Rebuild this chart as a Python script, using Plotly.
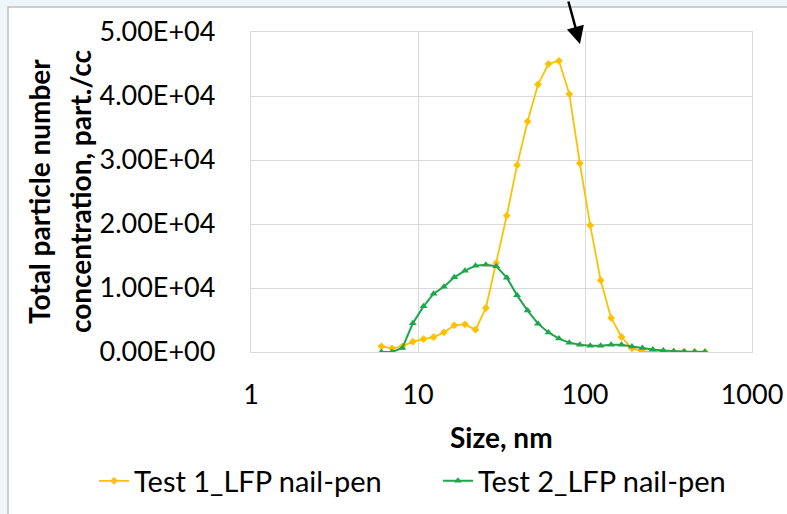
import plotly.graph_objects as go

# Particle size bins (nm), 16 channels per decade
size_nm = [6.04, 6.98, 8.06, 9.31, 10.8, 12.4, 14.3, 16.5, 19.1, 22.1, 25.5, 29.4,
           34.0, 39.2, 45.3, 52.3, 60.4, 69.8, 80.6, 93.1, 107.5, 124.1, 143.3, 165.5,
           191.1, 220.7, 254.8, 294.3, 339.8, 392.4, 453.2, 523.3]

# Total particle number concentration (part./cc)
test1 = [885, 573, 885, 1615, 2030, 2340, 3070, 4170, 4320, 3490, 6875, 13900,
         21300, 29200, 36000, 41800, 45000, 45500, 40300, 29500, 19800, 11200, 5330, 2340,
         570, 100, 60, 80, 50, 40, 20, 10]
test2 = [0, 0, 625, 4480, 7135, 9115, 10200, 11670, 12700, 13490, 13650, 13390,
         11615, 8850, 6480, 4430, 3050, 2090, 1460, 1130, 985, 985, 1140, 1140,
         875, 620, 380, 250, 110, 70, 40, 20]

series_names = ["Test 1_LFP nail-pen", "Test 2_LFP nail-pen"]
x_ticks = [1, 10, 100, 1000]
y_ticks = [0, 10000, 20000, 30000, 40000, 50000]
y_tick_text = ["0.00E+00", "1.00E+04", "2.00E+04", "3.00E+04", "4.00E+04", "5.00E+04"]

ORANGE = "#FFC000"
GREEN = "#1EA64C"
GRID = "#D9D9D9"
FONT = "Lato"

W, H = 787, 514
L, R, T, B = 251, 35, 32, 162
pw, ph = W - L - R, H - T - B


def px(x):
    return (x - L) / pw


def py(y):
    return (H - B - y) / ph


fig = go.Figure()
fig.add_trace(go.Scatter(
    x=size_nm, y=test1, name=series_names[0], mode="lines+markers",
    line=dict(color=ORANGE, width=1.8),
    marker=dict(symbol="diamond", size=6, color=ORANGE),
))
fig.add_trace(go.Scatter(
    x=size_nm, y=test2, name=series_names[1], mode="lines+markers",
    line=dict(color=GREEN, width=2),
    marker=dict(symbol="triangle-up", size=7, color=GREEN),
))

fig.update_layout(
    width=W, height=H,
    margin=dict(l=L, r=R, t=T, b=B, autoexpand=False),
    paper_bgcolor="#EEF6FA",
    plot_bgcolor="white",
    font=dict(family=FONT, size=27, color="black"),
    showlegend=True,
    legend=dict(
        orientation="h", x=px(94), xanchor="left", y=py(481), yanchor="middle",
        font=dict(size=29), itemwidth=30, traceorder="normal",
        entrywidth=299, entrywidthmode="pixels",
        bgcolor="rgba(0,0,0,0)",
    ),
    xaxis=dict(
        type="log", range=[0, 3], tickvals=x_ticks, ticktext=[str(v) for v in x_ticks],
        showgrid=True, gridcolor=GRID, gridwidth=1.3,
        showline=True, linecolor=GRID, linewidth=1.3, mirror=True,
        ticks="", zeroline=False, ticklabelstandoff=18,
        tickfont=dict(size=27),
    ),
    yaxis=dict(
        range=[0, 50000], tickvals=y_ticks, ticktext=y_tick_text,
        showgrid=True, gridcolor=GRID, gridwidth=1.3,
        showline=True, linecolor=GRID, linewidth=1.3, mirror=True,
        ticks="", zeroline=False, ticklabelstandoff=29,
        tickfont=dict(size=27),
    ),
    shapes=[
        # chart frame
        dict(type="rect", xref="paper", yref="paper", layer="below",
             x0=px(8), x1=px(800), y0=py(530), y1=py(7),
             fillcolor="white", line=dict(color="#BFBFBF", width=1.5)),
    ],
    annotations=[
        dict(text="<b>Total particle number</b>", xref="paper", yref="paper",
             x=px(39), y=py(192), textangle=-90, showarrow=False,
             xanchor="center", yanchor="middle", font=dict(size=28)),
        dict(text="<b>concentration, part./cc</b>", xref="paper", yref="paper",
             x=px(80), y=py(192), textangle=-90, showarrow=False,
             xanchor="center", yanchor="middle", font=dict(size=28)),
        dict(text="<b>Size, nm</b>", xref="paper", yref="paper",
             x=0.5, y=py(437), showarrow=False,
             xanchor="center", yanchor="middle", font=dict(size=28)),
        # pointer arrow
        dict(text="", xref="paper", yref="paper", x=px(580), y=py(44),
             ax=-12, ay=-50, showarrow=True, arrowhead=2, arrowsize=1.4,
             arrowwidth=2.5, arrowcolor="black"),
    ],
)

fig.write_html("out.html")
